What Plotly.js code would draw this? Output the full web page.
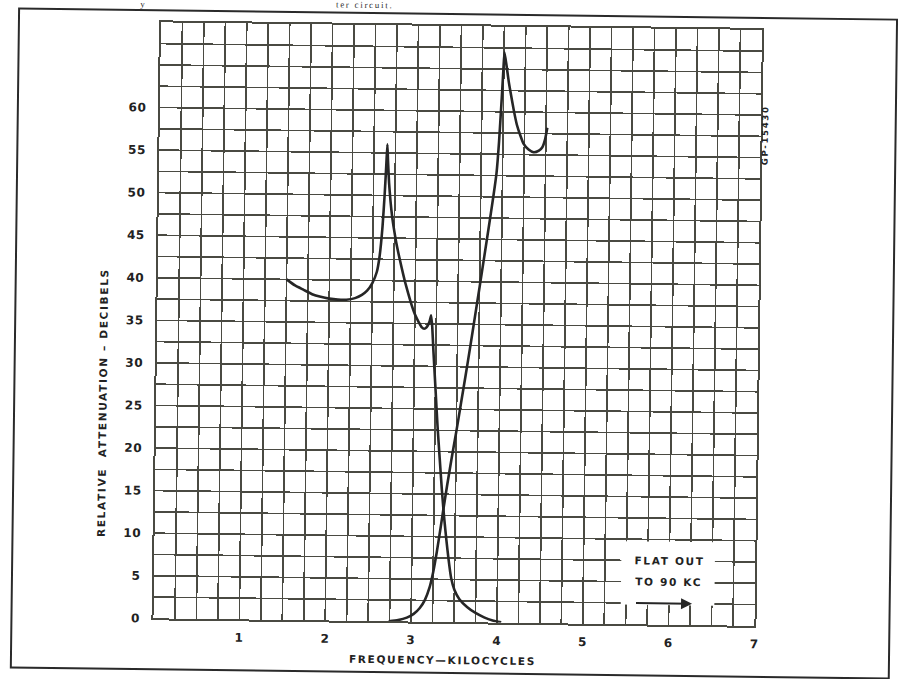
<!DOCTYPE html>
<html>
<head>
<meta charset="utf-8">
<script src="https://cdn.plot.ly/plotly-3.0.1.min.js"></script>
<style>
  html, body { margin: 0; padding: 0; background: #fff; overflow: hidden; }
  #chart {
    width: 898px; height: 679px;
    transform: rotate(0.72deg);
    transform-origin: 449px 339.5px;
  }
  #chart .annotation-text { letter-spacing: 1.7px; }
  #chart .xtick text, #chart .ytick text { letter-spacing: 0.6px; }
</style>
</head>
<body>
<div id="chart"></div>
<script>
// Section A: attenuation peak near 2.65 kc, falling off past 3.2 kc
const freqA  = [1.50, 1.60, 1.70, 1.80, 1.90, 2.00, 2.10, 2.20, 2.30, 2.38, 2.44, 2.50, 2.55, 2.58, 2.61, 2.63, 2.645, 2.655,
                2.665, 2.68, 2.70, 2.72, 2.745, 2.77, 2.80, 2.84, 2.88, 2.92, 2.96, 3.00, 3.05, 3.08, 3.11, 3.14, 3.17, 3.19,
                3.205, 3.22, 3.25, 3.28, 3.31, 3.34, 3.37, 3.40, 3.43, 3.46, 3.50, 3.56, 3.65, 3.75, 3.85, 3.95, 4.05];
const attenA = [40.0, 39.3, 38.8, 38.3, 38.0, 37.8, 37.7, 37.7, 37.9, 38.3, 38.8, 39.7, 41.0, 42.8, 46.3, 50.0, 53.5, 56.0,
                54.0, 51.5, 49.3, 47.6, 46.0, 44.6, 43.2, 41.5, 39.9, 38.5, 37.2, 36.1, 35.1, 34.6, 34.4, 34.6, 35.2, 36.0,
                34.5, 32.0, 27.5, 23.0, 19.2, 15.5, 12.3, 9.6, 7.2, 5.2, 3.8, 2.7, 1.8, 1.1, 0.6, 0.25, 0.05];

// Section B: rising from 2.75 kc to its peak near 4 kc
const freqB  = [2.74, 2.85, 2.95, 3.03, 3.10, 3.16, 3.21, 3.25, 3.29, 3.33, 3.36, 3.40, 3.45, 3.50, 3.55, 3.60, 3.65,
                3.70, 3.75, 3.80, 3.85, 3.90, 3.93, 3.955, 3.98, 3.995, 4.005,
                4.03, 4.06, 4.08, 4.12, 4.16, 4.20, 4.24, 4.30, 4.36, 4.42, 4.46, 4.49, 4.515];
const attenB = [0.0, 0.15, 0.45, 0.9, 1.6, 2.6, 4.0, 5.8, 8.2, 11.0, 13.2, 16.0, 19.3, 22.4, 25.7, 29.0, 32.4,
                35.9, 39.4, 43.0, 46.6, 50.3, 52.8, 56.5, 61.6, 65.0, 67.0,
                65.5, 63.5, 62.4, 60.3, 58.5, 57.3, 56.3, 55.6, 55.3, 55.5, 55.9, 56.8, 58.2];

const xTickVals = [1, 2, 3, 4, 5, 6, 7];
const xTickText = ['1', '2', '3', '4', '5', '6', '7'];
const yTickVals = [0, 5, 10, 15, 20, 25, 30, 35, 40, 45, 50, 55, 60];
const yTickText = ['0', '5', '10', '15', '20', '25', '30', '35', '40', '45', '50', '55', '60'];

const ink = '#262626';
const gridInk = '#4a4a42';
const letterFont = { family: 'DejaVu Sans, sans-serif', size: 10.5, color: '#222', weight: 'bold' };

const curveLine = { color: ink, width: 2.6, shape: 'spline', smoothing: 0.5 };

const traces = [
  { x: freqA, y: attenA, type: 'scatter', mode: 'lines', line: curveLine, hoverinfo: 'skip' },
  { x: freqB, y: attenB, type: 'scatter', mode: 'lines', line: curveLine, hoverinfo: 'skip' }
];

const gridAxis = {
  showgrid: true, gridcolor: gridInk, gridwidth: 1.6,
  showline: true, linecolor: gridInk, linewidth: 2, mirror: true,
  zeroline: false, ticks: '', fixedrange: true,
  tickfont: { family: 'DejaVu Sans, sans-serif', size: 12, color: '#222', weight: 'bold' }
};

const layout = {
  width: 898, height: 679,
  margin: { l: 157, r: 140, t: 26, b: 57 },
  paper_bgcolor: '#ffffff', plot_bgcolor: '#ffffff',
  showlegend: false,
  xaxis: Object.assign({}, gridAxis, {
    range: [0, 7], tickmode: 'array', tickvals: xTickVals, ticktext: xTickText,
    ticklabelstandoff: 6,
    minor: { dtick: 0.25, tick0: 0, showgrid: true, gridcolor: gridInk, gridwidth: 1.6 }
  }),
  yaxis: Object.assign({}, gridAxis, {
    range: [0, 70], tickmode: 'array', tickvals: yTickVals, ticktext: yTickText,
    ticklabelstandoff: 9,
    minor: { dtick: 2.5, tick0: 0, showgrid: true, gridcolor: gridInk, gridwidth: 1.6 }
  }),
  shapes: [
    // cleared patch of the grid behind the lettering
    { type: 'rect', xref: 'x', yref: 'y', x0: 5.44, x1: 6.53, y0: 2.3, y1: 9.75,
      fillcolor: '#ffffff', line: { width: 0 }, layer: 'above' },
    // outer frame of the figure
    { type: 'rect', xref: 'paper', yref: 'paper', x0: -0.2363, x1: 1.2246, y0: -0.0856, y1: 1.0201,
      line: { color: '#2a2a2a', width: 2 }, fillcolor: 'rgba(0,0,0,0)', layer: 'above' }
  ],
  annotations: [
    { text: 'RELATIVE  ATTENUATION – DECIBELS', xref: 'paper', yref: 'paper', x: -0.0885, y: 0.3617,
      textangle: -90, showarrow: false, font: letterFont, xanchor: 'center', yanchor: 'middle' },
    { text: 'FREQUENCY—KILOCYCLES', xref: 'paper', yref: 'paper', x: 0.4825, y: -0.0639,
      showarrow: false, font: letterFont, xanchor: 'center', yanchor: 'middle' },
    { text: 'GP-15430', xref: 'paper', yref: 'paper', x: 1.0073, y: 0.8238,
      textangle: -90, showarrow: false, font: { family: 'DejaVu Sans, sans-serif', size: 8.5, color: '#222', weight: 'bold' },
      xanchor: 'center', yanchor: 'middle' },
    { text: 'FLAT OUT', xref: 'x', yref: 'y', x: 6.0, y: 7.5, showarrow: false, font: letterFont,
      xanchor: 'center', yanchor: 'middle' },
    { text: 'TO 90 KC', xref: 'x', yref: 'y', x: 6.0, y: 5.0, showarrow: false, font: letterFont,
      xanchor: 'center', yanchor: 'middle' },
    { text: '', xref: 'x', yref: 'y', x: 6.27, y: 2.5, axref: 'x', ayref: 'y', ax: 5.6, ay: 2.5,
      showarrow: true, arrowhead: 2, arrowsize: 1.1, arrowwidth: 2, arrowcolor: ink },
    // caption line above the figure
    { text: 'y', xref: 'paper', yref: 'paper', x: -0.0286, y: 1.0297, showarrow: false,
      font: { family: 'Liberation Serif, serif', size: 9, color: '#333' }, xanchor: 'center', yanchor: 'middle' },
    { text: 'ter circuit.', xref: 'paper', yref: 'paper', x: 0.339, y: 1.0342, showarrow: false,
      font: { family: 'Liberation Serif, serif', size: 9, color: '#333' }, xanchor: 'center', yanchor: 'middle' }
  ]
};

Plotly.newPlot('chart', traces, layout, { displayModeBar: false, staticPlot: true });
</script>
</body>
</html>
